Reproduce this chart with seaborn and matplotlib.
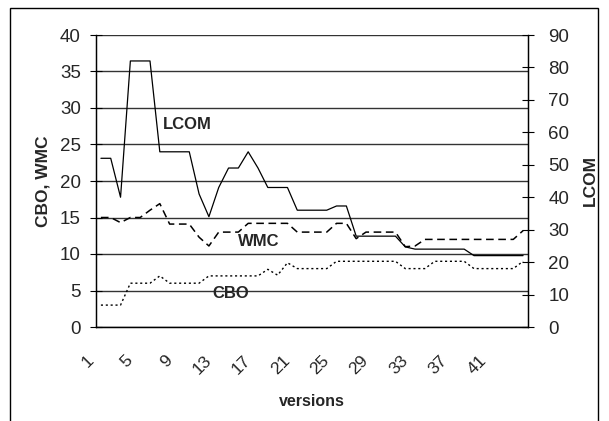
import matplotlib
matplotlib.use("Agg")
import matplotlib.pyplot as plt
import matplotlib.transforms as mtransforms
import seaborn as sns
import pandas as pd
import numpy as np
from matplotlib.patches import Rectangle

versions = list(range(1, 45))
lcom = [52, 52, 40, 82, 82, 82, 54, 54, 54, 54, 41, 34, 43, 49, 49, 54, 49, 43, 43, 43, 36,
        36, 36, 36, 37.3, 37.3, 28, 28, 28, 28, 28, 24.7, 24, 24, 24, 24, 24, 24, 22, 22, 22, 22, 22, 22]
wmc = [15, 15, 14.3, 15, 15, 16, 16.9, 14.1, 14.1, 14.1, 12.3, 11.1, 13, 13, 13, 14.2, 14.2, 14.2, 14.2, 14.2, 13,
       13, 13, 13, 14.2, 14.2, 12.1, 13, 13, 13, 13, 11, 11.1, 12, 12, 12, 12, 12, 12, 12, 12, 12, 12, 13.2]
cbo = [3, 3, 3, 6, 6, 6, 7, 6, 6, 6, 6, 7, 7, 7, 7, 7, 7, 7.9, 7.1, 8.8, 8,
       8, 8, 8, 9, 9, 9, 9, 9, 9, 9, 8, 8, 8, 9, 9, 9, 9, 8, 8, 8, 8, 8, 9]
xtick_labels = [1, 5, 9, 13, 17, 21, 25, 29, 33, 37, 41]
left_ticks = [0, 5, 10, 15, 20, 25, 30, 35, 40]
right_ticks = [0, 10, 20, 30, 40, 50, 60, 70, 80, 90]

df = pd.DataFrame({"version": versions, "LCOM": lcom, "WMC": wmc, "CBO": cbo})

sns.set_theme(style="white")
plt.rcParams["font.family"] = ["Liberation Sans", "DejaVu Sans"]

fig = plt.figure(figsize=(6.09, 4.21), dpi=100)
ax = fig.add_axes([96 / 609, 1 - 327 / 421, (528 - 96) / 609, (327 - 35) / 421])
ax2 = ax.twinx()

sns.lineplot(data=df, x="version", y="WMC", ax=ax, color="black", linewidth=1.1)
sns.lineplot(data=df, x="version", y="CBO", ax=ax, color="black", linewidth=1.0)
ax.lines[0].set_dashes((5, 3))
ax.lines[1].set_dashes((1.5, 2))
sns.lineplot(data=df, x="version", y="LCOM", ax=ax2, color="black", linewidth=0.9)

ax.set_xlim(0.5, 44.5)
ax.set_ylim(0, 40)
ax2.set_ylim(0, 90)

ax.set_yticks(left_ticks)
ax.set_yticklabels([str(t) for t in left_ticks], fontsize=13.5)
ax2.set_yticks(right_ticks)
ax2.set_yticklabels([str(t) for t in right_ticks], fontsize=13.5)

# x ticks: marks at category boundaries, labels at category centres
ax.set_xticks(np.arange(0.5, 45.5, 1.0))
ax.set_xticklabels([])
ax.set_xticks(xtick_labels, minor=True)
ax.set_xticklabels([str(v) for v in xtick_labels], minor=True, fontsize=12.5,
                   rotation=45, ha="right", va="top", rotation_mode="anchor")
ax.tick_params(axis="x", which="major", direction="out", length=5, width=0.8, color="black")
ax.tick_params(axis="x", which="minor", length=0, pad=15)
ax.tick_params(axis="y", direction="inout", length=8, width=0.8, color="black", pad=7)
ax2.tick_params(axis="y", direction="inout", length=9, width=0.8, color="black", pad=10)

shift = mtransforms.ScaledTranslation(-0.15, -0.05, fig.dpi_scale_trans)
for tick in ax.xaxis.get_minor_ticks():
    tick.label1.set_transform(tick.label1.get_transform() + shift)

ax.yaxis.grid(True, color="#333333", linewidth=1.0)
ax.set_axisbelow(True)

for a in (ax, ax2):
    a.spines["top"].set_visible(False)
    for s in ["left", "right", "bottom"]:
        a.spines[s].set_color("black")
        a.spines[s].set_linewidth(0.9)

ax.set_xlabel("versions", fontsize=11.5, fontweight="bold", labelpad=12)
ax.set_ylabel("CBO, WMC", fontsize=12.5, fontweight="bold", labelpad=7)
ax2.set_ylabel("LCOM", fontsize=12.5, fontweight="bold", labelpad=10)

ax.text(7.3, 27.8, "LCOM", fontsize=12, fontweight="bold", ha="left", va="center")
ax.text(15.0, 11.75, "WMC", fontsize=12, fontweight="bold", ha="left", va="center")
ax.text(12.4, 4.6, "CBO", fontsize=12, fontweight="bold", ha="left", va="center")

fig.patches.append(Rectangle((10 / 609, -0.05), (598 - 10) / 609, 1.05 - 8 / 421,
                             transform=fig.transFigure, fill=False,
                             edgecolor="black", linewidth=1.0))

fig.savefig("out.png", dpi=100)
